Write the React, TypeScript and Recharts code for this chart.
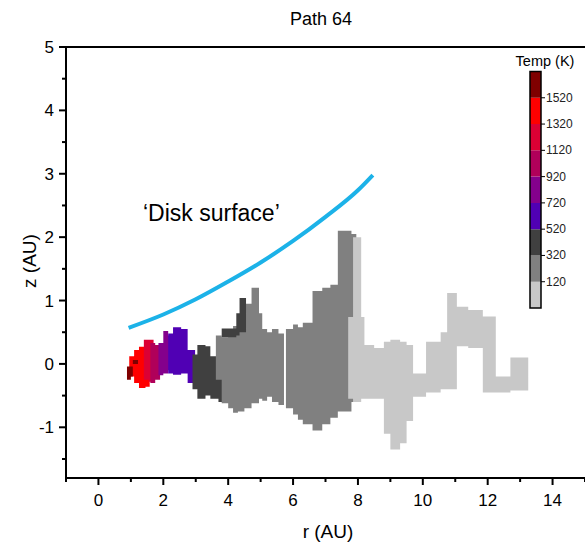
import React from "react";
import {
  ComposedChart,
  Area,
  Line,
  XAxis,
  YAxis,
  ReferenceLine,
  ReferenceArea,
} from "recharts";

const FONT = "Arial, 'Liberation Sans', Helvetica, sans-serif";

// axis ticks (odd r / half z are minor ticks)
const rTicks = [-1, 0, 1, 2, 3, 4, 5, 6, 7, 8, 9, 10, 11, 12, 13, 14, 15];
const zTicks = [-1.5, -1, -0.5, 0, 0.5, 1, 1.5, 2, 2.5, 3, 3.5, 4, 4.5, 5];

// colour bar bins (K)
const tempEdges = [-80, 120, 320, 520, 720, 920, 1120, 1320, 1520, 1720];
const tempColors = [
  "#c8c8c8",
  "#808080",
  "#404040",
  "#5000b4",
  "#84008c",
  "#b0005a",
  "#dc0034",
  "#ff0000",
  "#7f0000",
];
const tempTicks = [120, 320, 520, 720, 920, 1120, 1320, 1520];

// 'Disk surface' curve
const diskR = [0.93, 2, 3, 4, 5, 6, 7, 8, 8.46];
const diskZ = [0.57, 0.78, 1.02, 1.3, 1.6, 1.94, 2.32, 2.74, 2.98];

// path, read column by column: [r, z low, z high] (holds until next r)
const pathRed = [
  [0.95, -0.2, 0.12],
  [1.1, -0.3, 0.22],
  [1.25, -0.38, 0.27],
  [1.45, -0.36, 0.3],
  [1.58, -0.36, 0.3],
];
const pathDarkRed = [
  [0.88, -0.25, -0.04],
  [1.0, -0.2, -0.04],
  [1.06, 0.0, 0.06],
  [1.22, 0.0, 0.06],
];
const pathCrimson = [
  [1.4, -0.25, 0.38],
  [1.55, -0.28, 0.38],
  [1.7, -0.28, 0.38],
];
const pathRaspberry = [
  [1.6, -0.3, 0.33],
  [1.75, -0.25, 0.3],
  [1.9, -0.25, 0.3],
];
const pathPurple = [
  [1.85, -0.18, 0.33],
  [2.0, -0.15, 0.52],
  [2.15, -0.1, 0.45],
  [2.25, -0.1, 0.45],
];
const pathIndigo = [
  [2.15, -0.15, 0.48],
  [2.3, -0.17, 0.58],
  [2.55, -0.15, 0.55],
  [2.75, -0.3, 0.22],
  [2.98, -0.3, 0.22],
];
const pathDarkGray = [
  [2.9, -0.4, 0.15],
  [3.05, -0.55, 0.3],
  [3.3, -0.5, 0.28],
  [3.45, -0.55, 0.12],
  [3.7, -0.6, 0.0],
  [3.85, -0.6, 0.0],
];
const pathGrayA = [
  [3.62, -0.25, 0.45],
  [3.8, -0.62, 0.42],
  [4.0, -0.7, 0.55],
  [4.15, -0.77, 0.6],
  [4.3, -0.75, 0.62],
  [4.5, -0.7, 0.95],
  [4.72, -0.62, 1.2],
  [4.95, -0.55, 0.8],
  [5.05, -0.58, 0.55],
  [5.2, -0.52, 0.5],
  [5.35, -0.6, 0.55],
  [5.55, -0.65, 0.48],
  [5.72, -0.65, 0.48],
];
const pathDarkGrayB = [
  [3.8, 0.42, 0.56],
  [4.25, 0.45, 0.8],
  [4.35, 0.5, 1.04],
  [4.55, 0.5, 1.04],
];
const pathGrayB = [
  [5.78, -0.7, 0.55],
  [6.0, -0.8, 0.62],
  [6.15, -0.88, 0.58],
  [6.3, -0.95, 0.65],
  [6.6, -1.05, 1.15],
  [6.9, -0.95, 1.2],
  [7.15, -0.85, 1.25],
  [7.38, -0.75, 2.1],
  [7.8, -0.6, 2.05],
  [7.95, -0.6, 2.05],
];
const pathLightGray = [
  [7.7, -0.55, 0.74],
  [7.85, -0.6, 2.0],
  [8.1, -0.55, 0.74],
  [8.2, -0.55, 0.3],
  [8.5, -0.55, 0.25],
  [8.8, -1.1, 0.35],
  [9.0, -1.35, 0.38],
  [9.3, -1.25, 0.35],
  [9.5, -0.9, 0.3],
  [9.7, -0.52, -0.15],
  [10.1, -0.45, 0.35],
  [10.55, -0.4, 0.5],
  [10.75, -0.4, 1.12],
  [11.05, 0.28, 0.9],
  [11.4, 0.25, 0.85],
  [11.85, -0.45, 0.75],
  [12.25, -0.45, -0.2],
  [12.7, -0.42, 0.1],
  [13.25, -0.42, 0.1],
];

const blobs = [
  { pts: pathRed, color: tempColors[7] },
  { pts: pathDarkRed, color: tempColors[8] },
  { pts: pathCrimson, color: tempColors[6] },
  { pts: pathRaspberry, color: tempColors[5] },
  { pts: pathPurple, color: tempColors[4] },
  { pts: pathIndigo, color: tempColors[3] },
  { pts: pathDarkGray, color: tempColors[2] },
  { pts: pathGrayA, color: tempColors[1] },
  { pts: pathDarkGrayB, color: tempColors[2] },
  { pts: pathGrayB, color: tempColors[1] },
  { pts: pathLightGray, color: tempColors[0] },
];

const diskData = diskR.map((r, i) => ({ r, z: diskZ[i] }));

const XTick = ({ x, y, payload }: any) => {
  const major = payload.value % 2 === 0;
  return (
    <g>
      <line x1={x} x2={x} y1={y} y2={y + (major ? 7 : 4)} stroke="#000" strokeWidth={2} />
      {major && (
        <text x={x} y={y + 28} textAnchor="middle" fontSize={17} fontFamily={FONT} fill="#000">
          {payload.value}
        </text>
      )}
    </g>
  );
};

const YTick = ({ x, y, payload }: any) => {
  const major = Number.isInteger(payload.value);
  return (
    <g>
      <line x1={x} x2={x - (major ? 7 : 4)} y1={y} y2={y} stroke="#000" strokeWidth={2} />
      {major && (
        <text x={x - 12} y={y + 6} textAnchor="end" fontSize={17} fontFamily={FONT} fill="#000">
          {payload.value}
        </text>
      )}
    </g>
  );
};

const CbTick = ({ x, y, payload }: any) => (
  <g>
    <line x1={x} x2={x + 4} y1={y} y2={y} stroke="#000" strokeWidth={1} />
    <text x={x + 5} y={y + 4} fontSize={12} fontFamily={FONT} fill="#222">
      {payload.value}
    </text>
  </g>
);

export default function App() {
  return (
    <div style={{ position: "absolute", left: 0, top: 0, width: 585, height: 544, background: "#fff" }}>
      <ComposedChart width={585} height={544} margin={{ top: 47, right: 0, bottom: 0, left: 0 }}>
        <XAxis
          dataKey="r"
          type="number"
          domain={[-1, 15]}
          ticks={rTicks}
          interval={0}
          allowDataOverflow
          height={66}
          tickSize={0}
          tickMargin={0}
          tickLine={false}
          tick={XTick}
          axisLine={{ stroke: "#000", strokeWidth: 2 }}
        />
        <YAxis
          type="number"
          domain={[-1.8, 5]}
          ticks={zTicks}
          interval={0}
          allowDataOverflow
          width={66}
          tickSize={0}
          tickMargin={0}
          tickLine={false}
          tick={YTick}
          axisLine={{ stroke: "#000", strokeWidth: 2 }}
        />
        <ReferenceLine y={5} stroke="#000" strokeWidth={2} />
        {blobs.map((b, i) => (
          <Area
            key={i}
            data={b.pts.map(([r, lo, hi]) => ({ r, z: [lo, hi] }))}
            dataKey="z"
            type="stepAfter"
            fill={b.color}
            fillOpacity={1}
            stroke="none"
            isAnimationActive={false}
          />
        ))}
        <Line
          data={diskData}
          dataKey="z"
          type="monotone"
          stroke="#1cb2e8"
          strokeWidth={4}
          dot={false}
          isAnimationActive={false}
        />
      </ComposedChart>

      {/* colour bar */}
      <div style={{ position: "absolute", left: 0, top: 0 }}>
        <ComposedChart width={585} height={544} margin={{ top: 71.5, right: 4, bottom: 236, left: 530 }}>
          <XAxis dataKey="x" type="number" domain={[0, 1]} hide />
          <YAxis
            orientation="right"
            type="number"
            domain={[-80, 1720]}
            ticks={tempTicks}
            interval={0}
            allowDataOverflow
            width={40}
            tickSize={0}
            tickMargin={0}
            tickLine={false}
            axisLine={false}
            tick={CbTick}
          />
          {tempColors.map((c, i) => (
            <Area
              key={i}
              data={[
                { x: 0, v: [tempEdges[i], tempEdges[i + 1]] },
                { x: 1, v: [tempEdges[i], tempEdges[i + 1]] },
              ]}
              dataKey="v"
              type="linear"
              fill={c}
              fillOpacity={1}
              stroke="none"
              isAnimationActive={false}
            />
          ))}
          <ReferenceArea x1={0} x2={1} y1={-80} y2={1720} fill="none" stroke="#000" strokeWidth={1.5} />
        </ComposedChart>
      </div>

      <svg width={585} height={544} style={{ position: "absolute", left: 0, top: 0, pointerEvents: "none" }}>
        <text x={321} y={25} textAnchor="middle" fontSize={18} fontFamily={FONT} fill="#000">
          Path 64
        </text>
        <text x={328} y={538} textAnchor="middle" fontSize={19} fontFamily={FONT} fill="#000">
          r (AU)
        </text>
        <text
          transform="translate(36, 261) rotate(-90)"
          textAnchor="middle"
          fontSize={19}
          fontFamily={FONT}
          fill="#000"
        >
          z (AU)
        </text>
        <text x={143} y={221} fontSize={23} fontFamily={FONT} fill="#000">
          ‘Disk surface’
        </text>
        <text x={545} y={66} textAnchor="middle" fontSize={14.5} fontFamily={FONT} fill="#000">
          Temp (K)
        </text>
      </svg>
    </div>
  );
}
